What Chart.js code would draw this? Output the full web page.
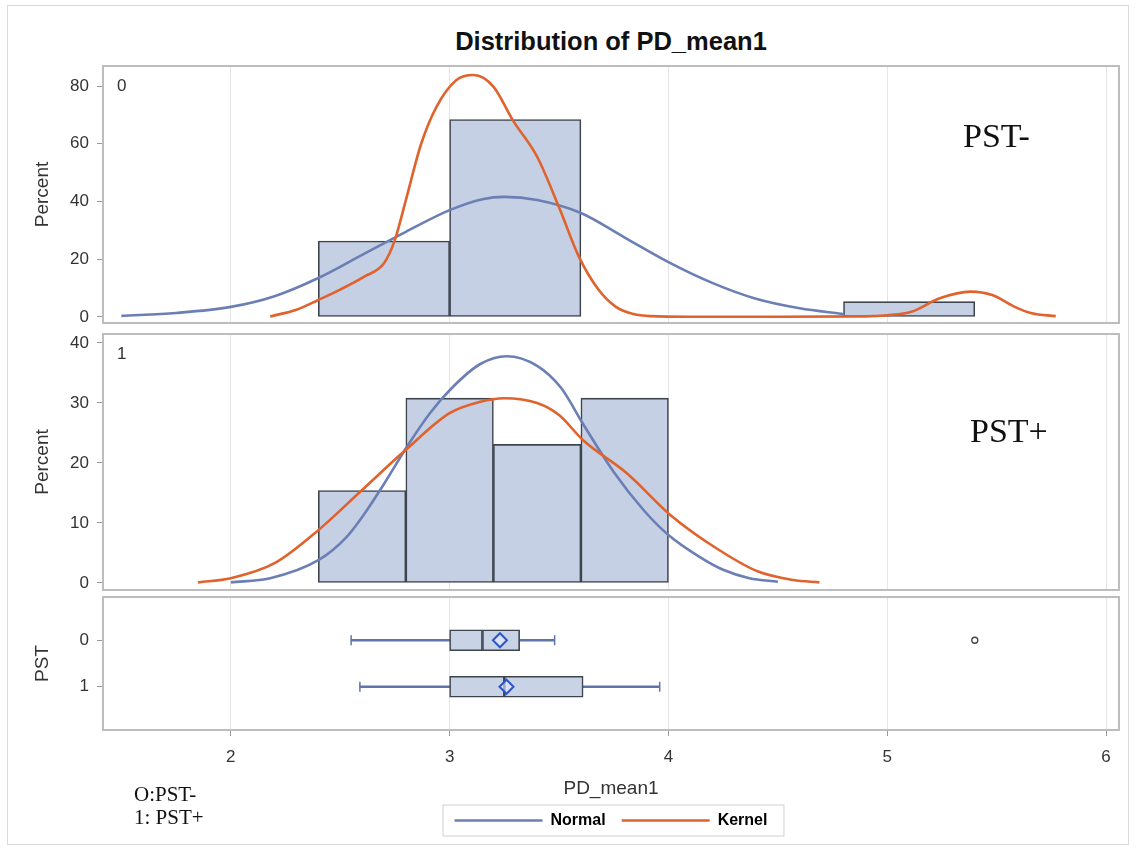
<!DOCTYPE html>
<html>
<head>
<meta charset="utf-8">
<script src="https://cdn.jsdelivr.net/npm/chart.js@4.4.0/dist/chart.umd.min.js"></script>
<style>
  body { margin: 0; background: #fff; }
  #wrap { position: relative; width: 1136px; height: 851px; overflow: hidden; background: #fff; }
  #frame { position: absolute; left: 7px; top: 5px; width: 1120px; height: 838px; border: 1px solid #dadada; }
  canvas { position: absolute; left: 0; }
  #title { position: absolute; left: 103px; width: 1016px; top: 27px; text-align: center;
           font: bold 25.5px "Liberation Sans", Arial, sans-serif; color: #111; }
  .note { position: absolute; font-family: "Liberation Serif", "Times New Roman", serif; color: #111; white-space: nowrap; }
</style>
</head>
<body>
<div id="wrap">
  <div id="frame"></div>
  <div id="title">Distribution of PD_mean1</div>
  <canvas id="top" width="1136" height="330" style="top:0px"></canvas>
  <canvas id="mid" width="1136" height="268" style="top:330px"></canvas>
  <canvas id="box" width="1136" height="263" style="top:588px"></canvas>
  <div class="note" style="left:963px; top:119px; font-size:34px; line-height:34px">PST-</div>
  <div class="note" style="left:970px; top:414px; font-size:34px; line-height:34px">PST+</div>
  <div class="note" style="left:134px; top:784px; font-size:21px; line-height:21px">O:PST-</div>
  <div class="note" style="left:134px; top:807px; font-size:21px; line-height:21px">1: PST+</div>
</div>
<script>
// x axis shared by all three panels
const xTicks = [2, 3, 4, 5, 6];
const xMin = 1.416;
const xMax = 6.059;

// PST = 0 : histogram (percent) by bin midpoint
const topBinMid = [2.7, 3.3, 5.1];
const topPercent = [26.3, 68.4, 5.3];
const topTicks = [0, 20, 40, 60, 80];

// PST = 0 : fitted curves
const topNormalX = [1.50, 1.75, 2.00, 2.20, 2.40, 2.60, 2.80, 3.00, 3.15, 3.25, 3.40, 3.60, 3.80, 4.00, 4.20, 4.40, 4.60, 4.80];
const topNormalY = [0.4, 1.4, 3.5, 7.2, 13.5, 21.5, 29.5, 37.0, 40.8, 41.6, 40.5, 36.0, 27.5, 19.0, 11.8, 6.3, 3.0, 1.0];
const topKernelX = [2.18, 2.30, 2.40, 2.50, 2.61, 2.70, 2.75, 2.80, 2.87, 2.94, 3.03, 3.11, 3.20, 3.29, 3.40, 3.50, 3.59, 3.68, 3.76, 3.84, 3.92, 4.10, 4.50, 4.90, 5.00, 5.11, 5.24, 5.38, 5.48, 5.58, 5.66, 5.77];
const topKernelY = [0.2, 2.5, 5.9, 9.5, 14.0, 18.6, 26.7, 40.5, 60.0, 72.8, 82.0, 83.8, 79.8, 68.0, 55.5, 38.0, 21.0, 9.5, 3.5, 1.0, 0.3, 0.1, 0.1, 0.2, 0.6, 1.8, 6.5, 8.8, 7.6, 3.6, 1.3, 0.3];

// PST = 1
const midBinMid = [2.6, 3.0, 3.4, 3.8];
const midPercent = [15.4, 30.8, 23.1, 30.8];
const midTicks = [0, 10, 20, 30, 40];
const midNormalX = [2.00, 2.18, 2.40, 2.53, 2.61, 2.70, 2.81, 2.91, 3.01, 3.14, 3.26, 3.40, 3.51, 3.61, 3.75, 3.89, 4.00, 4.14, 4.25, 4.37, 4.50];
const midNormalY = [0.1, 0.8, 3.8, 7.7, 11.5, 16.5, 23.0, 28.3, 32.5, 36.5, 37.8, 36.2, 32.5, 26.5, 18.5, 12.0, 8.0, 4.4, 2.2, 0.8, 0.2];
const midKernelX = [1.85, 2.00, 2.20, 2.40, 2.60, 2.80, 3.00, 3.14, 3.25, 3.40, 3.50, 3.61, 3.81, 4.01, 4.21, 4.41, 4.57, 4.69];
const midKernelY = [0.1, 0.8, 3.3, 8.8, 15.5, 22.2, 28.3, 30.2, 30.8, 30.0, 28.0, 23.8, 18.3, 11.3, 6.0, 1.9, 0.5, 0.1];

// box plots by PST group
const pstRows = [0, 1];
const whiskerLow = [2.55, 2.59];
const q1 = [3.00, 3.00];
const median = [3.15, 3.25];
const q3 = [3.32, 3.61];
const whiskerHigh = [3.48, 3.96];
const means = [3.23, 3.26];
const outlierX = [5.40];
const outlierRow = [0];

const normalColor = '#6b7fb5';
const kernelColor = '#e0622c';
const barFill = '#c5d0e4';
const barEdge = '#3d444e';
const whiskerColor = '#5f74aa';

Chart.defaults.font.family = '"Liberation Sans", Arial, sans-serif';
Chart.defaults.color = '#333';
Chart.defaults.animation = false;

const pts = (xs, ys) => xs.map((x, i) => ({ x: x, y: ys[i] }));
const setTicks = arr => s => { s.ticks = arr.map(v => ({ value: v })); };

// grey frame round each panel, plus the group label in its corner
const panelFrame = {
  id: 'panelFrame',
  afterDraw(chart, args, opts) {
    const { ctx, chartArea: a } = chart;
    ctx.save();
    ctx.strokeStyle = '#bdbdbd';
    ctx.lineWidth = 2;
    ctx.strokeRect(a.left, a.top, a.right - a.left, a.bottom - a.top);
    if (opts.text) {
      ctx.fillStyle = '#333';
      ctx.font = '17px "Liberation Sans", Arial, sans-serif';
      ctx.textBaseline = 'middle';
      ctx.fillText(opts.text, a.left + 14, a.top + 20);
    }
    ctx.restore();
  }
};

// box round the legend entries
const legendFrame = {
  id: 'legendFrame',
  afterDraw(chart) {
    const boxes = chart.legend && chart.legend.legendHitBoxes;
    if (!boxes || !boxes.length) return;
    const l = Math.min(...boxes.map(b => b.left)) - 12;
    const r = Math.max(...boxes.map(b => b.left + b.width)) + 16;
    const t = boxes[0].top - 8;
    const b = boxes[0].top + boxes[0].height + 7;
    const ctx = chart.ctx;
    ctx.save();
    ctx.strokeStyle = '#d0d0d0';
    ctx.lineWidth = 1;
    ctx.strokeRect(l + 0.5, t + 0.5, r - l, b - t);
    ctx.restore();
  }
};

function xScale(showLabels) {
  return {
    type: 'linear',
    min: xMin,
    max: xMax,
    offset: false,
    afterBuildTicks: setTicks(xTicks),
    grid: { offset: false, color: '#e6e6e6', drawTicks: showLabels, tickLength: 6, tickColor: '#9a9a9a' },
    border: { display: false },
    ticks: { display: showLabels, font: { size: 17 }, padding: 11 },
    title: { display: showLabels, text: 'PD_mean1', font: { size: 19 }, padding: { top: 0, bottom: -4 } },
    afterFit: s => {
      s.height = showLabels ? 66.5 : 0;
      s.paddingLeft = 0;
      s.paddingRight = 0;
    }
  };
}

function yScale(ticks, min, max, title, reverse) {
  return {
    type: 'linear',
    min: min,
    max: max,
    reverse: !!reverse,
    offset: false,
    afterBuildTicks: setTicks(ticks),
    grid: { offset: false, drawOnChartArea: false, drawTicks: true, tickLength: 6, color: '#9a9a9a' },
    border: { display: false },
    ticks: { font: { size: 17 }, padding: 8 },
    title: { display: true, text: title, font: { size: 19 }, padding: { top: 31 } },
    afterFit: s => {
      s.width = 103;
      s.paddingTop = 0;
      s.paddingBottom = 0;
    }
  };
}

function histPanel(id, mids, pct, nX, nY, kX, kY, ticks, yMin, yMax, label, pad) {
  return new Chart(document.getElementById(id), {
    type: 'bar',
    data: {
      datasets: [
        {
          type: 'line', label: 'Kernel', data: pts(kX, kY),
          borderColor: kernelColor, borderWidth: 2.6, pointRadius: 0,
          cubicInterpolationMode: 'monotone', order: 1
        },
        {
          type: 'line', label: 'Normal', data: pts(nX, nY),
          borderColor: normalColor, borderWidth: 2.6, pointRadius: 0,
          cubicInterpolationMode: 'monotone', order: 2
        },
        {
          type: 'bar', label: 'Percent', data: pts(mids, pct),
          backgroundColor: barFill, borderColor: barEdge, borderWidth: 1.6,
          borderSkipped: false, barPercentage: 1, categoryPercentage: 1, order: 3
        }
      ]
    },
    options: {
      responsive: false,
      layout: { padding: { left: 0, right: 17, top: pad[0], bottom: pad[1] } },
      scales: {
        x: xScale(false),
        y: yScale(ticks, yMin, yMax, 'Percent')
      },
      plugins: {
        legend: { display: false },
        tooltip: { enabled: false },
        panelFrame: { text: label }
      }
    },
    plugins: [panelFrame]
  });
}

histPanel('top', topBinMid, topPercent, topNormalX, topNormalY, topKernelX, topKernelY,
          topTicks, -2.08, 86.93, '0', [66, 7]);
histPanel('mid', midBinMid, midPercent, midNormalX, midNormalY, midKernelX, midKernelY,
          midTicks, -1.17, 41.5, '1', [4, 8]);

// box plot panel
const boxRange = (lo, hi) => pstRows.map((r, i) => ({ x: [lo[i], hi[i]], y: r }));
new Chart(document.getElementById('box'), {
  type: 'bar',
  data: {
    datasets: [
      { type: 'bar', indexAxis: 'y', data: boxRange(whiskerLow, q1), backgroundColor: whiskerColor,
        borderWidth: 0, barThickness: 2, grouped: false, order: 6 },
      { type: 'bar', indexAxis: 'y', data: boxRange(q3, whiskerHigh), backgroundColor: whiskerColor,
        borderWidth: 0, barThickness: 2, grouped: false, order: 6 },
      { type: 'bar', indexAxis: 'y', data: boxRange(q1, median), backgroundColor: '#c8d3e6',
        borderColor: barEdge, borderWidth: 1.6, borderSkipped: false, barThickness: 21, grouped: false, order: 5 },
      { type: 'bar', indexAxis: 'y', data: boxRange(median, q3), backgroundColor: '#c8d3e6',
        borderColor: barEdge, borderWidth: 1.6, borderSkipped: false, barThickness: 21, grouped: false, order: 5 },
      { type: 'scatter', data: pts(whiskerLow.concat(whiskerHigh), pstRows.concat(pstRows)),
        pointStyle: 'line', rotation: 90, pointRadius: 5, borderColor: whiskerColor, borderWidth: 1.5, order: 4 },
      { type: 'scatter', data: pts(means, pstRows), pointStyle: 'rectRot', pointRadius: 7,
        borderColor: '#2f54c4', borderWidth: 2, backgroundColor: 'rgba(230,238,255,0.6)', order: 3 },
      { type: 'scatter', data: pts(outlierX, outlierRow), pointStyle: 'circle', pointRadius: 3,
        borderColor: '#444', borderWidth: 1.3, backgroundColor: '#fff', order: 2 }
    ]
  },
  options: {
    responsive: false,
    layout: { padding: { left: 0, right: 17, top: 4, bottom: 12.5 } },
    scales: {
      x: xScale(true),
      y: yScale(pstRows, -0.93, 1.93, 'PST', true)
    },
    plugins: {
      tooltip: { enabled: false },
      panelFrame: { text: '' },
      legend: {
        position: 'bottom',
        fullSize: false,
        labels: {
          usePointStyle: true,
          pointStyleWidth: 88,
          padding: 16,
          color: '#333',
          font: { size: 16, weight: 'bold' },
          generateLabels: () => [
            { text: 'Normal', pointStyle: 'line', strokeStyle: normalColor, fillStyle: normalColor, lineWidth: 2.6, datasetIndex: 0 },
            { text: 'Kernel', pointStyle: 'line', strokeStyle: kernelColor, fillStyle: kernelColor, lineWidth: 2.6, datasetIndex: 1 }
          ]
        }
      }
    }
  },
  plugins: [panelFrame, legendFrame]
});
</script>
</body>
</html>
